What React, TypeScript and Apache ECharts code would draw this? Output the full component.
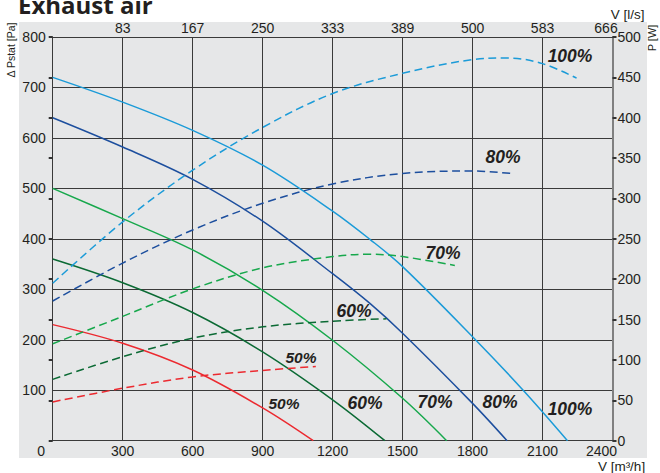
import React, { useEffect, useRef } from "react";
import * as echarts from "echarts";

// ---------- data ----------
const flowTicks = [0, 300, 600, 900, 1200, 1500, 1800, 2100, 2400];
const topTickLabels = ["", "83", "167", "250", "333", "389", "500", "583", "666"];
const speedNames = ["100%", "80%", "70%", "60%", "50%"];

// static pressure [Pa] vs airflow [m3/h]
const press100 = [[0, 720], [300, 671], [600, 615], [900, 546], [1200, 455], [1360, 399], [1500, 345], [1800, 206], [2017, 100], [2207, 0]];
const press80 = [[0, 640], [300, 582], [600, 518], [900, 435], [1200, 331], [1360, 272], [1500, 213], [1800, 74], [1948, 0]];
const press70 = [[0, 500], [300, 440], [600, 378], [900, 298], [1200, 199], [1500, 84], [1689, 0]];
const press60 = [[0, 360], [300, 313], [600, 254], [900, 176], [1200, 81], [1424, 0]];
const press50 = [[0, 230], [300, 193], [600, 140], [900, 65], [1117, 0]];

// power [W] vs airflow [m3/h]
const power100 = [[0, 195], [300, 271], [600, 335], [900, 388], [1200, 430], [1500, 455], [1800, 472], [1950, 474], [2100, 467], [2246, 449]];
const power80 = [[0, 173], [300, 220], [600, 261], [900, 294], [1200, 318], [1500, 331], [1800, 334], [1967, 331]];
const power70 = [[0, 120], [300, 154], [600, 188], [900, 214], [1200, 228], [1360, 231], [1500, 228], [1724, 217]];
const power60 = [[0, 76], [300, 104], [600, 127], [900, 141], [1200, 148], [1431, 151]];
const power50 = [[0, 48], [300, 65], [600, 79], [900, 87], [1128, 92]];

const pressureSets = [press100, press80, press70, press60, press50];
const powerSets = [power100, power80, power70, power60, power50];
const colors = ["#1b9bd8", "#1d4f9e", "#17a84c", "#0b6a34", "#ec2a30"];

const FONT = "'Liberation Sans', Arial, sans-serif";
const TXT = "#231f20";
const GRIDC = "#3a3a3a";

function buildOption() {
  const series: any[] = [];
  pressureSets.forEach((d, i) => {
    series.push({
      type: "line",
      name: "p" + speedNames[i],
      xAxisIndex: 0,
      yAxisIndex: 0,
      data: d,
      smooth: 0.35,
      showSymbol: false,
      symbol: "none",
      lineStyle: { color: colors[i], width: 1.5 },
      z: 3,
    });
  });
  powerSets.forEach((d, i) => {
    series.push({
      type: "line",
      name: "P" + speedNames[i],
      xAxisIndex: 0,
      yAxisIndex: 1,
      data: d,
      smooth: 0.35,
      showSymbol: false,
      symbol: "none",
      lineStyle: { color: colors[i], width: 1.5, type: [8, 4.5] },
      z: 3,
    });
  });

  const label = (text: string, x: number, y: number, size: number) => ({
    type: "text",
    x,
    y,
    z: 10,
    style: {
      text,
      fill: TXT,
      fontSize: size,
      fontWeight: "bold",
      fontStyle: "italic",
      fontFamily: FONT,
      align: "center",
      textAlign: "center",
      verticalAlign: "middle",
      textVerticalAlign: "middle",
    },
  });

  const plain = (text: string, x: number, y: number, size: number, rot = 0, align = "center") => ({
    type: "text",
    x,
    y,
    rotation: rot,
    z: 10,
    style: {
      text,
      fill: TXT,
      fontSize: size,
      fontFamily: FONT,
      align,
      textAlign: align,
      verticalAlign: "middle",
      textVerticalAlign: "middle",
    },
  });

  const graphic: any[] = [
    {
      type: "rect",
      z: -100,
      zlevel: 0,
      shape: { x: 19, y: 22, width: 628, height: 436 },
      style: { fill: "#e6e7e8" },
      silent: true,
    },
    {
      type: "text",
      x: 18,
      y: 4,
      z: 10,
      style: {
        text: "Exhaust air",
        fill: TXT,
        fontSize: 24,
        fontWeight: "bold",
        fontFamily: "'Open Sans', 'Noto Sans', sans-serif",
        align: "left",
        textAlign: "left",
        verticalAlign: "middle",
        textVerticalAlign: "middle",
      },
    },
    plain("Δ Pstat [Pa]", 11, 50, 10.5, Math.PI / 2),
    plain("P [W]", 652, 38, 11, Math.PI / 2),
    plain("V [l/s]", 627.5, 14, 13.5),
    plain("V [m³/h]", 621.5, 466, 13.5),
    label(speedNames[0], 570, 56, 17.5),
    label(speedNames[1], 503, 157, 17.5),
    label(speedNames[2], 443, 253, 17.5),
    label(speedNames[3], 354, 311, 17.5),
    label(speedNames[4], 301, 357, 15.5),
    label(speedNames[4], 284, 403, 15.5),
    label(speedNames[3], 365, 403, 17.5),
    label(speedNames[2], 435, 402, 17.5),
    label(speedNames[1], 500, 402, 17.5),
    label(speedNames[0], 570, 408.5, 17.5),
  ];

  const lastFlow = flowTicks[flowTicks.length - 1];

  return {
    animation: false,
    backgroundColor: "#ffffff",
    grid: { left: 52.7, right: 47.5, top: 37, bottom: 32.3, containLabel: false },
    xAxis: [
      {
        type: "value",
        position: "bottom",
        min: flowTicks[0],
        max: lastFlow,
        interval: 300,
        axisLine: { show: true, onZero: false, lineStyle: { color: GRIDC, width: 1 } },
        axisTick: { show: false },
        splitLine: { show: true, lineStyle: { color: GRIDC, width: 1 } },
        axisLabel: {
          color: TXT,
          fontSize: 14,
          fontFamily: FONT,
          margin: 3,
          formatter: (v: number) => {
            if (v === 0) return "{first|0}";
            if (v === lastFlow) return "{last|" + v + "}";
            return String(v);
          },
          rich: {
            first: { fontSize: 14, fontFamily: FONT, color: TXT, padding: [0, 23, 0, 0] },
            last: { fontSize: 14, fontFamily: FONT, color: TXT, padding: [0, 22, 0, 0] },
          },
        },
      },
      {
        type: "value",
        position: "top",
        min: flowTicks[0],
        max: lastFlow,
        interval: 300,
        axisLine: { show: true, onZero: false, lineStyle: { color: GRIDC, width: 1 } },
        axisTick: { show: false },
        splitLine: { show: false },
        axisLabel: {
          color: TXT,
          fontSize: 14,
          fontFamily: FONT,
          margin: 2,
          formatter: (v: number) => {
            const idx = flowTicks.indexOf(v);
            const t = idx >= 0 ? topTickLabels[idx] : "";
            if (v === lastFlow) return "{last|" + t + "}";
            return t;
          },
          rich: {
            last: { fontSize: 14, fontFamily: FONT, color: TXT, padding: [0, 13, 0, 0] },
          },
        },
      },
    ],
    yAxis: [
      {
        type: "value",
        position: "left",
        min: 0,
        max: 800,
        interval: 100,
        axisLine: { show: true, onZero: false, lineStyle: { color: GRIDC, width: 1 } },
        axisTick: { show: false },
        splitLine: { show: true, lineStyle: { color: GRIDC, width: 1 } },
        axisLabel: {
          color: TXT,
          fontSize: 14,
          fontFamily: FONT,
          margin: 7,
          formatter: (v: number) => (v === 0 ? "" : String(v)),
        },
      },
      {
        type: "value",
        position: "right",
        min: 0,
        max: 500,
        interval: 50,
        axisLine: { show: true, onZero: false, lineStyle: { color: "#808080", width: 2 } },
        axisTick: { show: true, length: 4, lineStyle: { color: "#333333", width: 2 } },
        splitLine: { show: false },
        axisLabel: { color: TXT, fontSize: 14, fontFamily: FONT, margin: 5 },
      },
      {
        type: "value",
        position: "right",
        min: 0,
        max: 500,
        interval: 50,
        axisLine: { show: false },
        axisTick: { show: true, inside: true, length: 4, lineStyle: { color: "#333333", width: 2 } },
        splitLine: { show: false },
        axisLabel: { show: false },
      },
    ],
    series,
    graphic,
  };
}

export default function App() {
  const ref = useRef<HTMLDivElement>(null);
  useEffect(() => {
    document.body.style.margin = "0";
    const chart = echarts.init(ref.current as HTMLDivElement, null, { renderer: "svg" });
    chart.setOption(buildOption() as any);
    return () => chart.dispose();
  }, []);
  return <div ref={ref} style={{ width: 660, height: 473 }} />;
}
